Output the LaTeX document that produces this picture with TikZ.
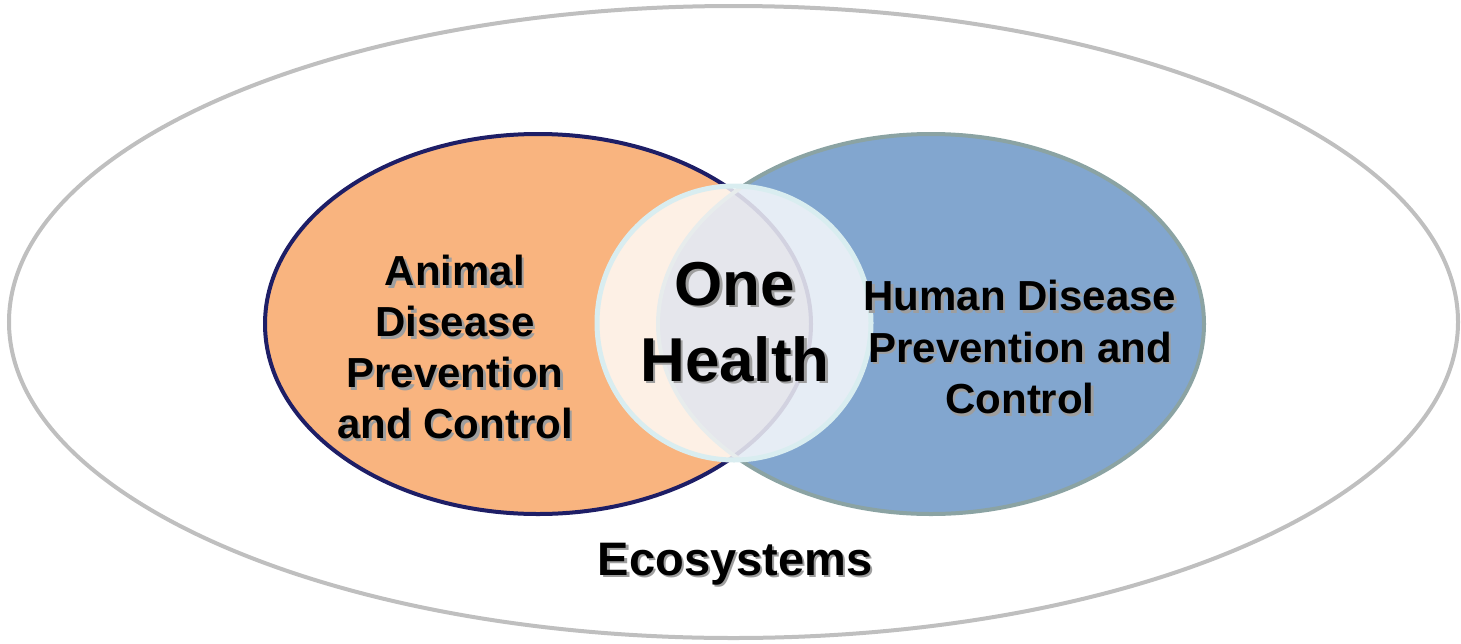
\documentclass[tikz,border=0pt]{standalone}
\usepackage{fontspec}
\setmainfont{Liberation Sans}
\usetikzlibrary{shapes.geometric}
\definecolor{orangefill}{HTML}{F9B47F}
\definecolor{navyline}{HTML}{1E1E66}
\definecolor{bluefill}{HTML}{82A6CF}
\definecolor{tealline}{HTML}{8BA3A3}
\definecolor{lensfill}{RGB}{125,130,160}
\definecolor{ringline}{HTML}{D9EDF0}
\definecolor{outerline}{HTML}{BFBFBF}
\newcommand\shd[1]{\makebox[0pt][l]{\hspace{2.5pt}\raisebox{-2.5pt}{\textcolor{black!38}{#1}}}#1}
\begin{document}
\begin{tikzpicture}[x=1pt,y=-1pt,
  region/.style={ellipse, inner sep=0pt, minimum width=546pt, minimum height=380pt},
  label/.style={inner sep=0pt, align=center, text=black, font=\bfseries\fontsize{42}{51}\selectfont}]
\useasboundingbox (0,0) rectangle (1461,643);
\node[ellipse, draw=outerline, line width=4pt, inner sep=0pt, minimum width=1449pt, minimum height=632pt] (eco) at (733.5,322) {};
\node[region, fill=orangefill] (animal) at (538,324) {};
\node[region, fill=bluefill] (human) at (931,324) {};
\begin{scope}
  \clip (538,324) ellipse [x radius=273, y radius=190];
  \fill[lensfill] (931,324) ellipse [x radius=273, y radius=190];
\end{scope}
\draw[navyline, line width=4pt] (538,324) ellipse [x radius=273, y radius=190];
\draw[tealline, line width=4pt] (931,324) ellipse [x radius=273, y radius=190];
\node[circle, inner sep=0pt, minimum size=274pt, fill=white, fill opacity=0.8, draw=ringline, draw opacity=1, line width=5pt] (one) at (734,323) {};
\node[label] (animaltext) at (455,348.5) {\shd{Animal}\\\shd{Disease}\\\shd{Prevention}\\\shd{and Control}};
\node[label, font=\bfseries\fontsize{42}{51.5}\selectfont] (humantext) at (1020,348.5) {\shd{Human Disease}\\\shd{Prevention and}\\\shd{Control}};
\node[label, font=\bfseries\fontsize{62}{76}\selectfont] (onetext) at (735,323) {\shd{One}\\\shd{Health}};
\node[label, anchor=base, font=\bfseries\fontsize{47}{56}\selectfont] (ecotext) at (735,575) {\shd{Ecosystems}};
\end{tikzpicture}
\end{document}
